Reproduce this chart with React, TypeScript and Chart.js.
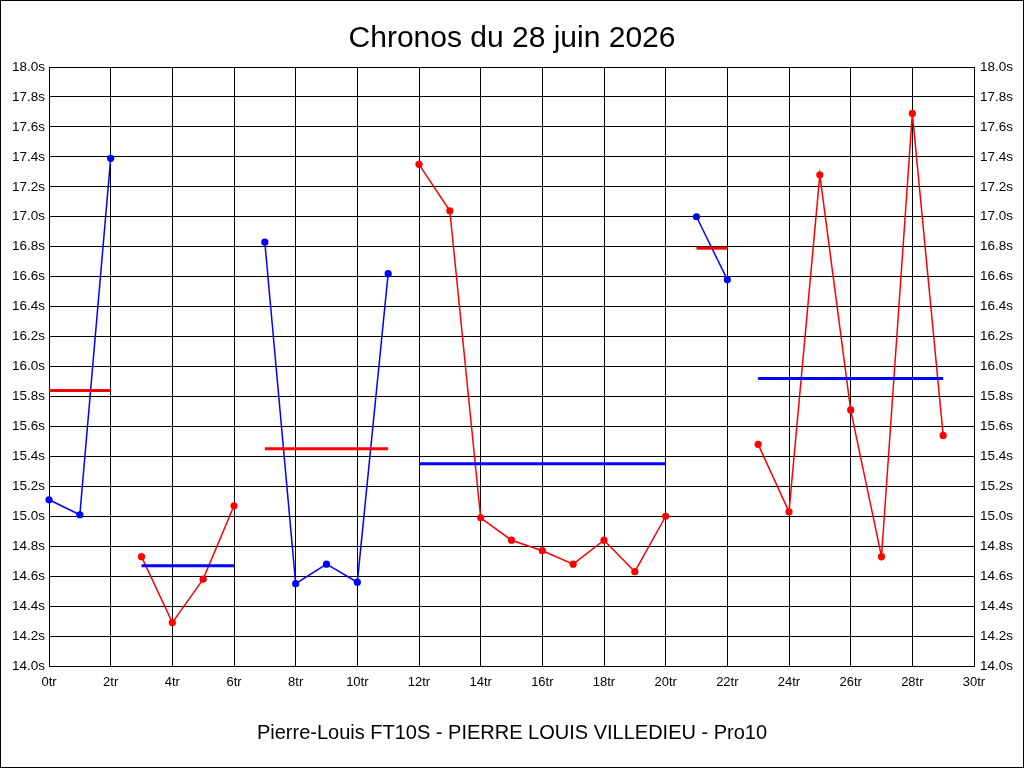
import React, { useEffect, useRef } from 'react';
import { Chart, registerables } from 'chart.js';

Chart.register(...registerables);

// lap times in seconds, lap number = index
const lapTimes = [
  15.11, 15.01, 17.39, 14.73, 14.29, 14.58, 15.07, 16.83, 14.55, 14.68,
  14.56, 16.62, 17.35, 17.04, 14.99, 14.84, 14.77, 14.68, 14.84, 14.63,
  15.0, 17.0, 16.58, 15.48, 15.03, 17.28, 15.71, 14.73, 17.69, 15.54,
];
const segmentFirstLap = [0, 3, 7, 12, 21, 23];
const segmentLastLap = [2, 6, 11, 20, 22, 29];
const segmentAverages = [15.84, 14.67, 15.45, 15.35, 16.79, 15.92];

const lapTicks = { min: 0, max: 30, step: 2 };
const timeTicks = { min: 14, max: 18, step: 0.2 };

const BLUE = '#0000ff';
const RED = '#ff0000';
const FONT = 'Liberation Sans, Arial, sans-serif';

const frame = {
  id: 'frame',
  afterDraw(chart: Chart) {
    const { ctx, width, height } = chart;
    ctx.save();
    ctx.strokeStyle = '#000';
    ctx.lineWidth = 1;
    ctx.strokeRect(0.5, 0.5, width - 1, height - 1);
    ctx.restore();
  },
};

const ChronoChart: React.FC = () => {
  const canvasRef = useRef<HTMLCanvasElement>(null);
  const chartRef = useRef<Chart | null>(null);

  useEffect(() => {
    if (!canvasRef.current) return;
    const ctx = canvasRef.current.getContext('2d');
    if (!ctx) return;
    if (chartRef.current) chartRef.current.destroy();

    const lapSets: any[] = [];
    const avgSets: any[] = [];
    segmentFirstLap.forEach((first, i) => {
      const last = segmentLastLap[i];
      const lineColor = i % 2 === 0 ? BLUE : RED;
      const avgColor = i % 2 === 0 ? RED : BLUE;
      const pts = [];
      for (let lap = first; lap <= last; lap++) pts.push({ x: lap, y: lapTimes[lap] });
      lapSets.push({
        data: pts,
        borderColor: lineColor,
        backgroundColor: lineColor,
        borderWidth: 1.5,
        pointRadius: 3.6,
        pointBorderWidth: 0,
        tension: 0,
        clip: false,
        yAxisID: 'y',
      });
      avgSets.push({
        data: [
          { x: first, y: segmentAverages[i] },
          { x: last, y: segmentAverages[i] },
        ],
        borderColor: avgColor,
        borderWidth: 3,
        borderCapStyle: 'butt',
        pointRadius: 0,
        yAxisID: 'y',
      });
    });

    chartRef.current = new Chart(ctx, {
      type: 'line',
      data: { datasets: [...avgSets, ...lapSets] },
      plugins: [frame],
      options: {
        animation: false,
        responsive: false,
        devicePixelRatio: 1,
        layout: { padding: 0 },
        plugins: {
          legend: { display: false },
          tooltip: { enabled: false },
          title: {
            display: true,
            text: 'Chronos du 28 juin 2026',
            color: '#000',
            font: { family: FONT, size: 30, weight: 'normal', lineHeight: 1.2 },
            padding: { top: 21, bottom: 10 },
          },
          subtitle: {
            display: true,
            position: 'bottom',
            text: 'Pierre-Louis FT10S - PIERRE LOUIS VILLEDIEU - Pro10',
            color: '#000',
            font: { family: FONT, size: 20, weight: 'normal', lineHeight: 1.2 },
            padding: { top: 25, bottom: 23 },
          },
        },
        scales: {
          x: {
            type: 'linear',
            min: lapTicks.min,
            max: lapTicks.max,
            ticks: {
              stepSize: lapTicks.step,
              color: '#000',
              padding: 9,
              maxRotation: 0,
              font: { family: FONT, size: 13 },
              callback: (v: any) => `${v}tr`,
            },
            grid: { color: '#000', drawTicks: false, lineWidth: 1 },
            border: { color: '#000', width: 1 },
            afterFit: (s: any) => {
              s.height = 30;
            },
          },
          y: {
            position: 'left',
            min: timeTicks.min,
            max: timeTicks.max,
            ticks: {
              stepSize: timeTicks.step,
              color: '#000',
              padding: 4,
              font: { family: FONT, size: 13.5 },
              callback: (v: any) => `${Number(v).toFixed(1)}s`,
            },
            grid: { color: '#000', drawTicks: false, lineWidth: 1 },
            border: { color: '#000', width: 1 },
            afterFit: (s: any) => {
              s.width = 49;
            },
          },
          y2: {
            position: 'right',
            min: timeTicks.min,
            max: timeTicks.max,
            ticks: {
              stepSize: timeTicks.step,
              color: '#000',
              padding: 6,
              font: { family: FONT, size: 13.5 },
              callback: (v: any) => `${Number(v).toFixed(1)}s`,
            },
            grid: { display: false, drawTicks: false },
            border: { color: '#000', width: 1 },
            afterFit: (s: any) => {
              s.width = 50;
            },
          },
        },
      },
    } as any);

    return () => chartRef.current?.destroy();
  }, []);

  return <canvas ref={canvasRef} width={1024} height={768} style={{ display: 'block' }}></canvas>;
};

export default function App() {
  return (
    <div style={{ position: 'absolute', left: 0, top: 0, width: 1024, height: 768, background: '#fff' }}>
      <ChronoChart />
    </div>
  );
}
